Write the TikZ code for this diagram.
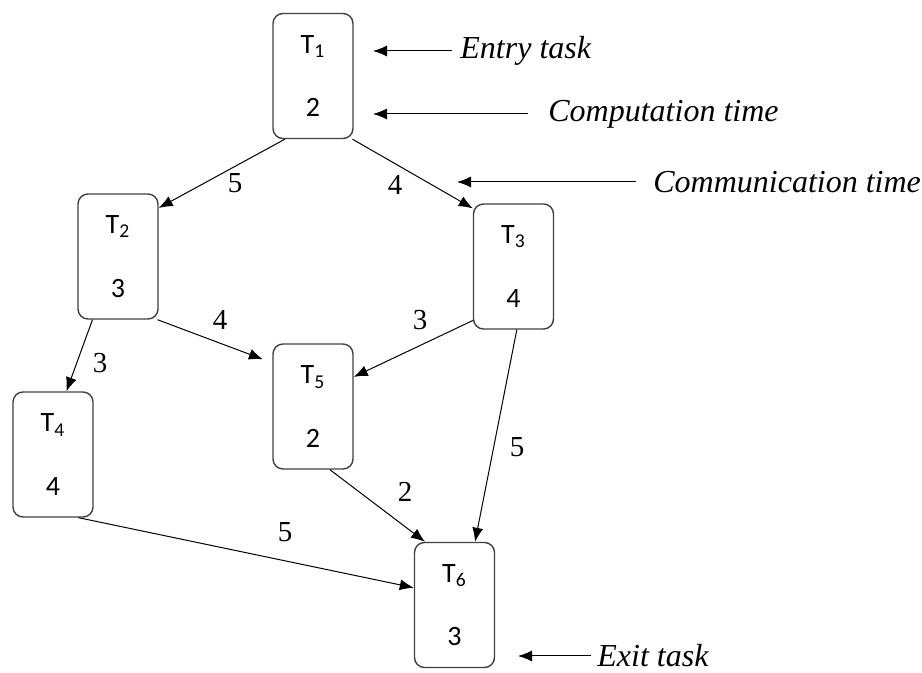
\documentclass[tikz,border=0pt]{standalone}
\usepackage{fontspec}
\setmainfont{Liberation Serif}
\newfontfamily\taskfont{Carlito}
\usetikzlibrary{arrows.meta}
\begin{document}
\begin{tikzpicture}[x=0.5pt, y=-0.5pt, >={Latex[length=7pt,width=5.5pt]},
  task/.style={draw=black!75, line width=0.7pt, rounded corners=5pt, minimum width=40pt, minimum height=62.5pt, inner sep=0pt, align=center, font=\taskfont\fontsize{14}{16.8}\selectfont},
  wt/.style={font=\fontsize{14.5}{17}\selectfont, inner sep=0pt},
  remark/.style={font=\fontsize{16}{19}\selectfont\itshape, anchor=west, inner sep=0pt},
  dep/.style={->, line width=0.5pt}]
\useasboundingbox (0,0) rectangle (922,673);
% tasks
\node[task] (T1) at (313,76) {T\textsubscript{1}\\[15pt]2};
\node[task] (T2) at (118,256.5) {T\textsubscript{2}\\[15pt]3};
\node[task] (T3) at (513.5,266.5) {T\textsubscript{3}\\[15pt]4};
\node[task] (T4) at (53,454.5) {T\textsubscript{4}\\[15pt]4};
\node[task] (T5) at (313,406.5) {T\textsubscript{5}\\[15pt]2};
\node[task] (T6) at (454.5,605) {T\textsubscript{6}\\[15pt]3};
% dependencies
\draw[dep] (T1.246) -- (T2.50);
\draw[dep] (T1.302) -- (T3.125);
\draw[dep] (T2.248) -- (T4.78);
\draw[dep, shorten >=5pt] (T2.302) -- (T5.133);
\draw[dep] (T3.233) -- (T5.36);
\draw[dep] (T3.273) -- (T6.72);
\draw[dep] (T5.285) -- (T6.115);
\draw[dep] (T4.292) -- (T6.157);
% communication times
\node[wt] (w12) at (235,183) {5};
\node[wt] (w13) at (395,185) {4};
\node[wt] (w24) at (100,363) {3};
\node[wt] (w25) at (220,320) {4};
\node[wt] (w35) at (420,320) {3};
\node[wt] (w36) at (517,447) {5};
\node[wt] (w56) at (405,492) {2};
\node[wt] (w46) at (285,532) {5};
% notes
\node[remark] (entry) at (460,51) {Entry task};
\coordinate (entryTip) at (373,51);
\draw[dep, shorten <=4pt] (entry) -- (entryTip);
\node[remark] (comp) at (548,114) {Computation time};
\coordinate (compTip) at (373,114);
\draw[dep, shorten <=10pt] (comp) -- (compTip);
\node[remark] (comm) at (653,182) {Communication time};
\coordinate (commTip) at (457,182);
\draw[dep, shorten <=8.5pt] (comm) -- (commTip);
\node[remark] (exit) at (597,656) {Exit task};
\coordinate (exitTip) at (518,656);
\draw[dep, shorten <=3pt] (exit) -- (exitTip);
\end{tikzpicture}
\end{document}
